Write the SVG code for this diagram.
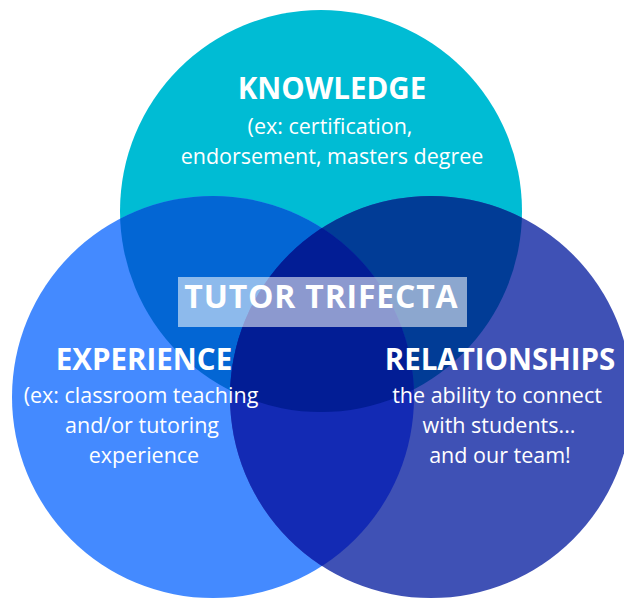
<svg xmlns="http://www.w3.org/2000/svg" width="624" height="598" viewBox="0 0 624 598">
<style>
.t{font-family:"Open Sans","Liberation Sans",sans-serif;fill:#ffffff;text-anchor:middle}
.h{font-size:29.5px;font-weight:700}
.s{font-size:21.5px;font-weight:400}
</style>
<defs>
<clipPath id="cT"><circle cx="321" cy="211" r="201"/></clipPath>
<clipPath id="cL"><circle cx="213" cy="397" r="201"/></clipPath>
<clipPath id="cR"><circle cx="431" cy="397" r="201"/></clipPath>
</defs>
<rect width="624" height="598" fill="#ffffff"/>
<g id="knowledge">
<circle cx="321" cy="211" r="201" fill="#00BCD4"/>
</g>
<g id="experience">
<circle cx="213" cy="397" r="201" fill="#448AFF"/>
</g>
<g id="relationships">
<circle cx="431" cy="397" r="201" fill="#3F51B5"/>
</g>
<g id="overlaps">
<circle cx="213" cy="397" r="201" fill="#0366D4" clip-path="url(#cT)"/>
<circle cx="431" cy="397" r="201" fill="#013C96" clip-path="url(#cT)"/>
<circle cx="431" cy="397" r="201" fill="#132AB4" clip-path="url(#cL)"/>
<g clip-path="url(#cT)"><circle cx="431" cy="397" r="201" fill="#021D95" clip-path="url(#cL)"/></g>
</g>
<g id="knowledge-label">
<text class="t h" x="332" y="99">KNOWLEDGE</text>
<text class="t s" x="330" y="134">(ex: certification,</text>
<text class="t s" x="332" y="164">endorsement, masters degree</text>
</g>
<g id="experience-label">
<text class="t h" x="144" y="370">EXPERIENCE</text>
<text class="t s" x="141" y="403">(ex: classroom teaching</text>
<text class="t s" x="142" y="433">and/or tutoring</text>
<text class="t s" x="144" y="463">experience</text>
</g>
<g id="relationships-label">
<text class="t h" x="500" y="370">RELATIONSHIPS</text>
<text class="t s" x="497" y="403">the ability to connect</text>
<text class="t s" x="499" y="433">with students...</text>
<text class="t s" x="500" y="463">and our team!</text>
</g>
<g id="tutor-trifecta">
<rect x="178" y="277" width="289" height="50" fill="#ffffff" fill-opacity="0.55"/>
<text class="t" x="321.4" y="307.5" style="font-size:32px;font-weight:700;letter-spacing:0.8px">TUTOR TRIFECTA</text>
</g>
</svg>
